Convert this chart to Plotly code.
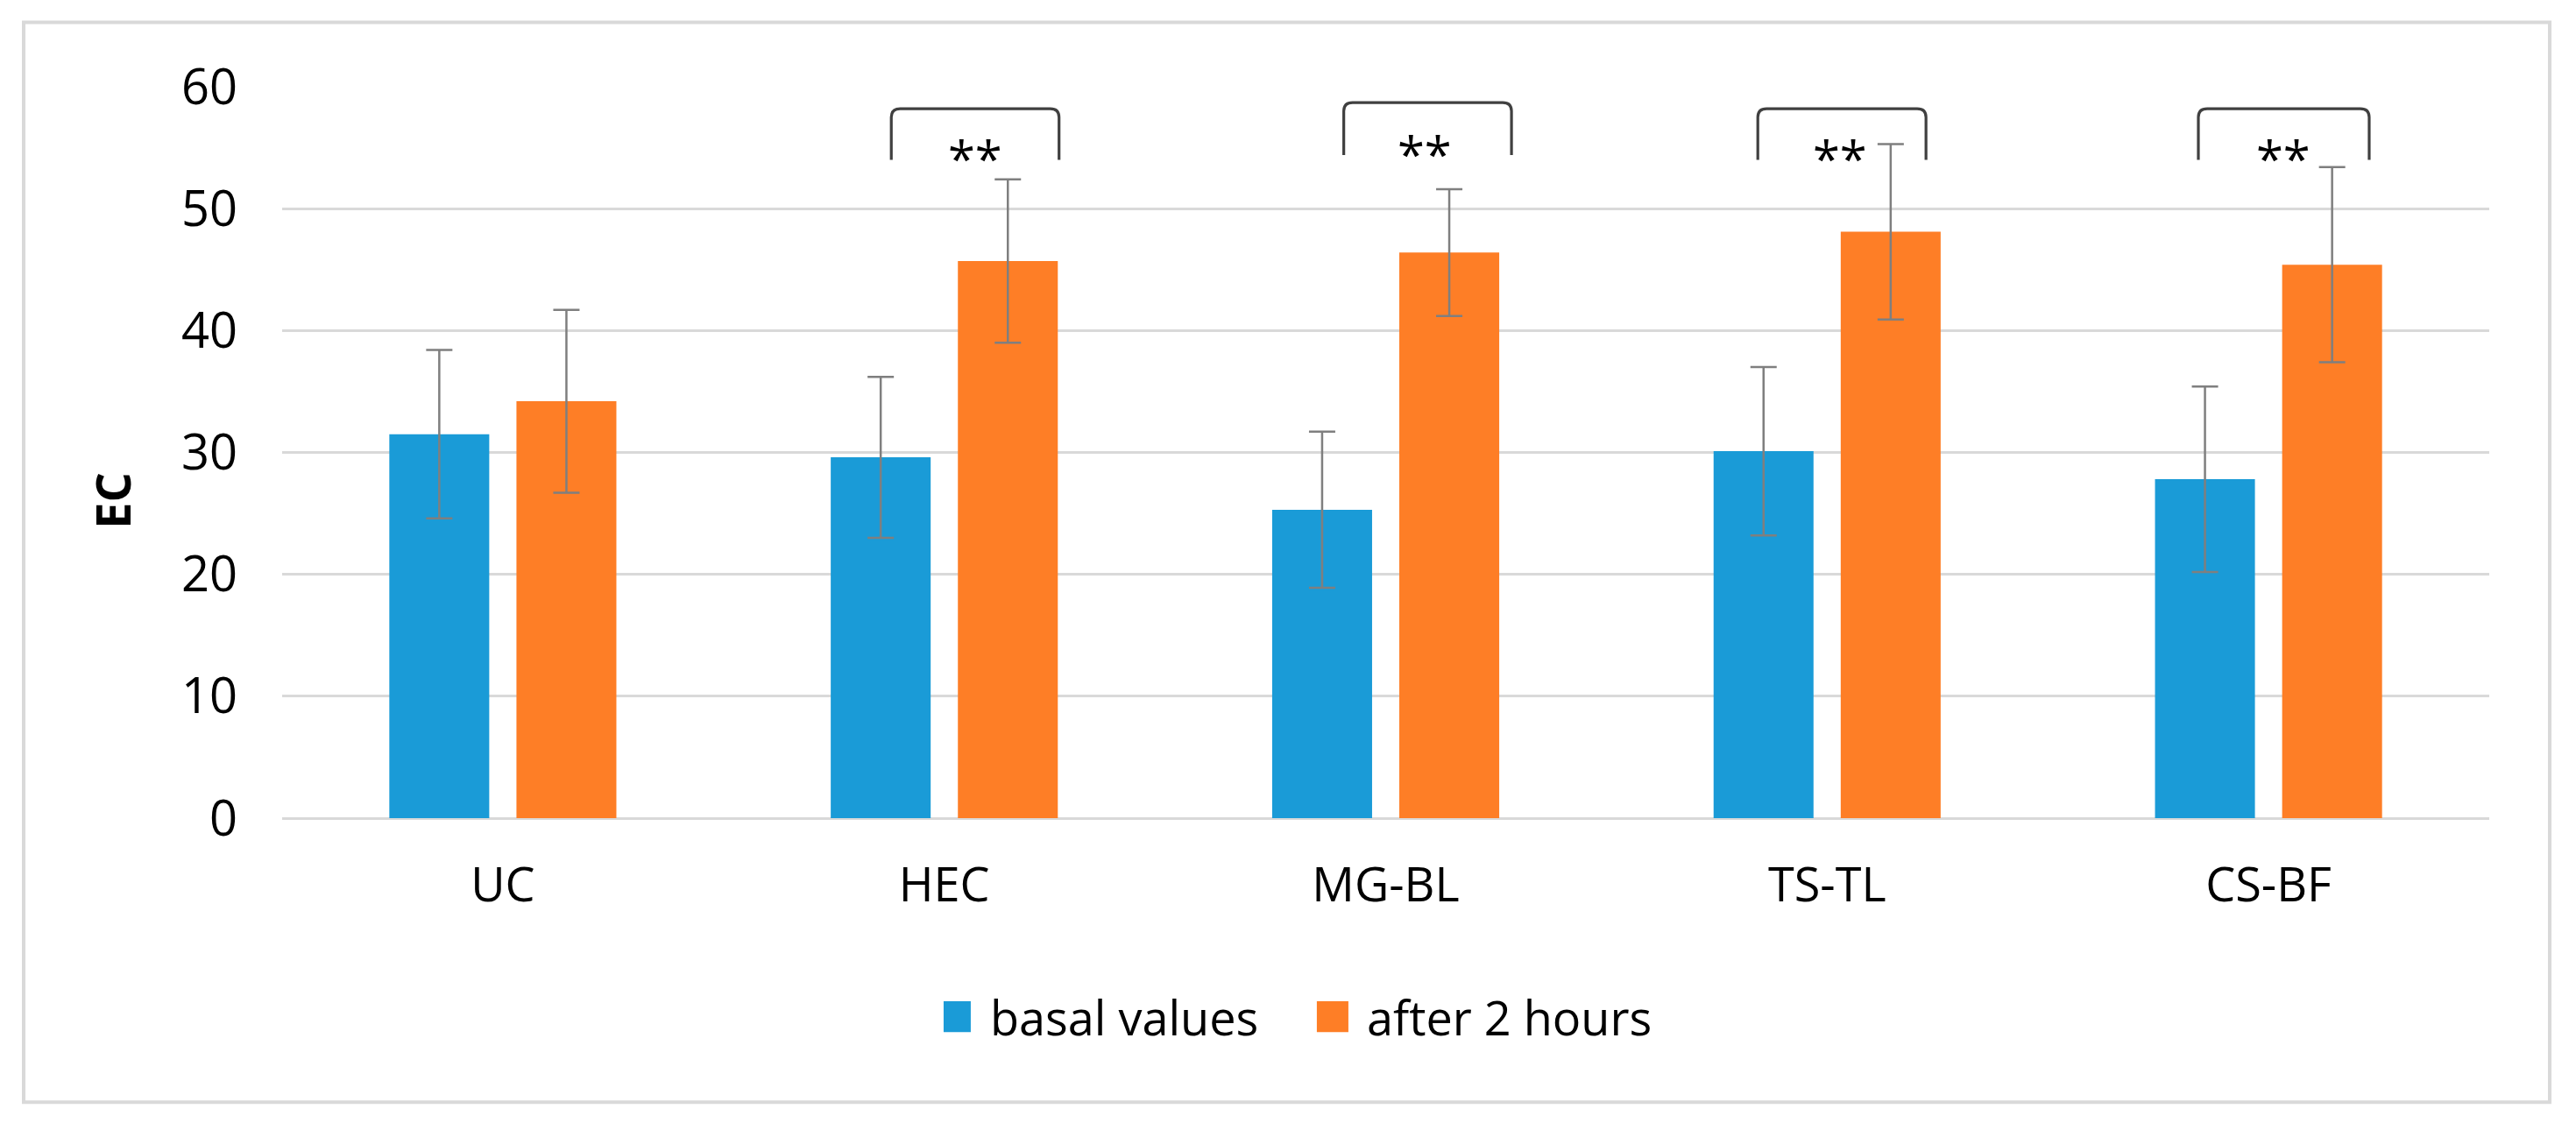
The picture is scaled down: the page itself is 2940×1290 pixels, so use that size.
import plotly.graph_objects as go

# ---- data ----
categories = ["UC", "HEC", "MG-BL", "TS-TL", "CS-BF"]
basal = [31.5, 29.6, 25.3, 30.1, 27.8]
basal_err = [6.9, 6.6, 6.4, 6.9, 7.6]
after = [34.2, 45.7, 46.4, 48.1, 45.4]
after_err = [7.5, 6.7, 5.2, 7.2, 8.0]
significance = ["", "**", "**", "**", "**"]
series_names = ["basal values", "after 2 hours"]

# ---- styles ----
BLUE = "#1A9BD7"
ORANGE = "#FE7E26"
GRID = "#D9D9D9"
ERR = "#7F7F7F"
FONT = "Open Sans"
COLORS = [BLUE, ORANGE]

# bracket geometry (category-index offsets and y-levels)
bracket_left = [None, -0.120, -0.095, -0.157, -0.159]
bracket_right = [None, 0.260, 0.285, 0.224, 0.228]
bracket_top = [None, 58.2, 58.7, 58.2, 58.2]
bracket_bottom = [None, 54.0, 54.4, 54.0, 54.0]
star_off = [None, 0.071, 0.088, 0.030, 0.034]
star_y = [None, 54.15, 54.55, 54.15, 54.15]

fig = go.Figure()
for name, vals, errs, col in zip(series_names, [basal, after], [basal_err, after_err], COLORS):
    fig.add_trace(go.Bar(
        x=categories, y=vals, name=name, marker_color=col,
        marker_line_width=0, showlegend=False,
        error_y=dict(type="data", array=errs, visible=True, color=ERR,
                     thickness=2.5, width=15),
    ))

shapes = []
annotations = []
rx = 0.02
ry = 0.7
for i, sig in enumerate(significance):
    if not sig:
        continue
    x0 = i + bracket_left[i]
    x1 = i + bracket_right[i]
    yt = bracket_top[i]
    yb = bracket_bottom[i]
    path = (f"M {x0},{yb} L {x0},{yt - ry} Q {x0},{yt} {x0 + rx},{yt} "
            f"L {x1 - rx},{yt} Q {x1},{yt} {x1},{yt - ry} L {x1},{yb}")
    shapes.append(dict(type="path", path=path, xref="x", yref="y",
                       line=dict(color="#404040", width=3.2)))
    annotations.append(dict(x=i + star_off[i], y=star_y[i],
                            xref="x", yref="y", text=sig, showarrow=False,
                            font=dict(family=FONT, size=56, color="#000000"),
                            xanchor="center", yanchor="middle"))

# outer frame
shapes.append(dict(type="rect", xref="paper", yref="paper",
                   x0=-0.1171, x1=1.0274, y0=-0.3883, y1=1.0881,
                   line=dict(color="#D9D9D9", width=4), fillcolor="rgba(0,0,0,0)",
                   layer="below"))

# y-axis title (placed like the original, slightly below centre)
annotations.append(dict(x=-0.077, y=0.434, xref="paper", yref="paper",
                        text="<b>EC</b>", textangle=-90, showarrow=False,
                        font=dict(family=FONT, size=54, color="#000000"),
                        xanchor="center", yanchor="middle"))

# legend (large square keys like the original)
legend_sq_x = [(0.2997, 0.3120), (0.4688, 0.4831)]
legend_txt_x = [0.3200, 0.4907]
for (sx0, sx1), tx, name, col in zip(legend_sq_x, legend_txt_x, series_names, COLORS):
    shapes.append(dict(type="rect", xref="paper", yref="paper",
                       x0=sx0, x1=sx1, y0=-0.2924, y1=-0.2504,
                       line=dict(width=0), fillcolor=col))
    annotations.append(dict(x=tx, y=-0.272, xref="paper", yref="paper",
                            text=name, showarrow=False, xanchor="left",
                            yanchor="middle",
                            font=dict(family=FONT, size=54, color="#000000")))

fig.update_layout(
    width=2924, height=1274,
    margin=dict(l=314, r=91, t=91, b=348),
    paper_bgcolor="white", plot_bgcolor="white",
    barmode="group", bargap=0.424, bargroupgap=0.214,
    font=dict(family=FONT, color="#000000"),
    shapes=shapes, annotations=annotations,
    showlegend=False,
)
fig.update_xaxes(
    type="category", showgrid=False, showline=False, zeroline=False,
    ticks="", tickfont=dict(family=FONT, size=54, color="#000000"),
    ticklabelstandoff=40,
)
fig.update_yaxes(
    range=[0, 60], tickvals=[0, 10, 20, 30, 40, 50, 60],
    showgrid=True, gridcolor=GRID, gridwidth=3,
    zeroline=True, zerolinecolor=GRID, zerolinewidth=3,
    showline=False, ticks="",
    tickfont=dict(family=FONT, size=56, color="#000000"),
    ticklabelstandoff=50,
)

fig.write_html("out.html")
